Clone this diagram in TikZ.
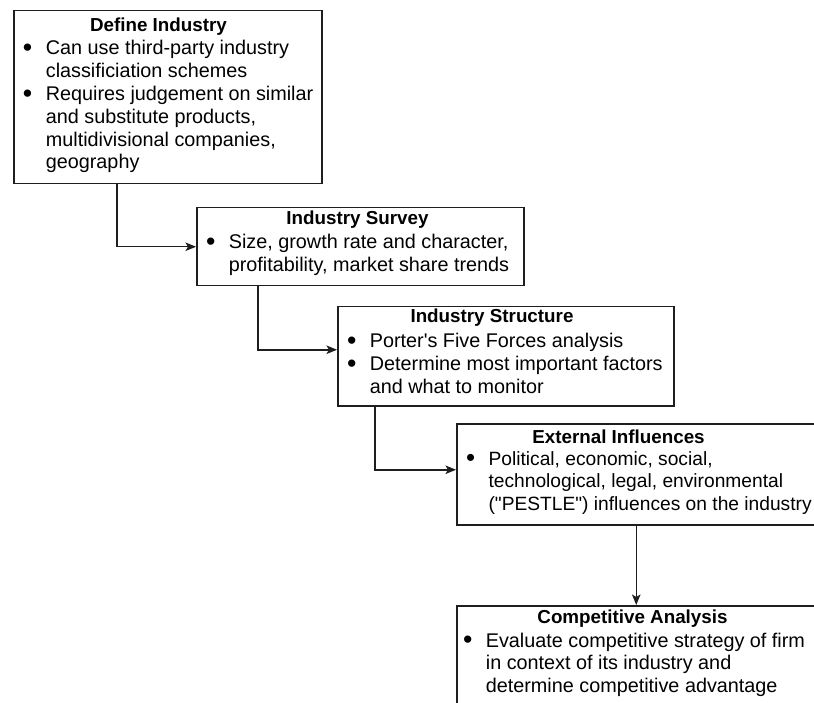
\documentclass[tikz,border=0pt]{standalone}
\usepackage{fontspec}
\setmainfont{Liberation Sans}[Ligatures=TeXOff]
\usetikzlibrary{arrows.meta}
\definecolor{linegray}{HTML}{1E1E1E}
\newcommand\bodysize{\fontsize{19.8}{22.8}\selectfont}
\newcommand\headsize{\fontsize{18.8}{22.8}\selectfont\bfseries}
\newcommand\bl{\raisebox{-1.6pt}{\scalebox{1.35}{\textbullet}}}

\begin{document}
\begin{tikzpicture}[x=1pt,y=-1pt,
  stagebox/.style={draw=linegray, line width=1.5pt, rectangle, inner sep=0pt, anchor=north west},
  heading/.style={anchor=base, inner sep=0pt, font=\headsize},
  bodytext/.style={anchor=base west, inner sep=0pt, font=\bodysize},
  flow/.style={draw=linegray, line width=1.5pt, -{Stealth[length=10.5pt,width=8.5pt,inset=2.5pt]}}
]
\useasboundingbox (0,0) rectangle (814,703);
\clip (0,0) rectangle (814,703);

% stage frames
\node[stagebox, minimum width=308pt, minimum height=173pt] (b1) at (13,10) {};
\node[stagebox, minimum width=327pt, minimum height=78pt]  (b2) at (196,207) {};
\node[stagebox, minimum width=336pt, minimum height=99pt]  (b3) at (337,306) {};
\node[stagebox, minimum width=359pt, minimum height=101pt] (b4) at (456,423) {};
\node[stagebox, minimum width=359pt, minimum height=115pt] (b5) at (456,605) {};

% headings
\node[heading] (h1) at (158.5,32) {Define Industry};
\node[heading] (h2) at (357.5,225) {Industry Survey};
\node[heading] (h3) at (492,323) {Industry Structure};
\node[heading] (h4) at (618.5,443) {External Influences};
\node[heading] (h5) at (632.5,623) {Competitive Analysis};

% bullet lists
\node[bodytext] (t1) at (22.8,55) {\begin{tabular}[t]{@{}l@{\hspace{13.5pt}}l@{}}
\bl & Can use third-party industry\\
    & classificiation schemes\\
\bl & Requires judgement on similar\\
    & and substitute products,\\
    & multidivisional companies,\\
    & geography
\end{tabular}};

\node[bodytext] (t2) at (205.8,249) {\begin{tabular}[t]{@{}l@{\hspace{13.5pt}}l@{}}
\bl & Size, growth rate and character,\\
    & profitability, market share trends
\end{tabular}};

\node[bodytext] (t3) at (346.8,348) {\begin{tabular}[t]{@{}l@{\hspace{13.5pt}}l@{}}
\bl & Porter's Five Forces analysis\\
\bl & Determine most important factors\\
    & and what to monitor
\end{tabular}};

\node[bodytext, font=\fontsize{19.2}{22.8}\selectfont] (t4) at (465.8,465) {\begin{tabular}[t]{@{}l@{\hspace{13.5pt}}l@{}}
\bl & Political, economic, social,\\
    & technological, legal, environmental\\
    & ("PESTLE") influences on the industry
\end{tabular}};

\node[bodytext] (t5) at (462.8,647) {\begin{tabular}[t]{@{}l@{\hspace{13.5pt}}l@{}}
\bl & Evaluate competitive strategy of firm\\
    & in context of its industry and\\
    & determine competitive advantage
\end{tabular}};

% connectors
\draw[flow] ([xshift=104pt]b1.south west) |- (b2.west);
\draw[flow] ([xshift=62pt]b2.south west) |- ([yshift=6.5pt]b3.west);
\draw[flow] ([xshift=38pt]b3.south west) |- ([yshift=4.5pt]b4.west);
\draw[flow] (b4.south) -- (b5.north);
\end{tikzpicture}
\end{document}
